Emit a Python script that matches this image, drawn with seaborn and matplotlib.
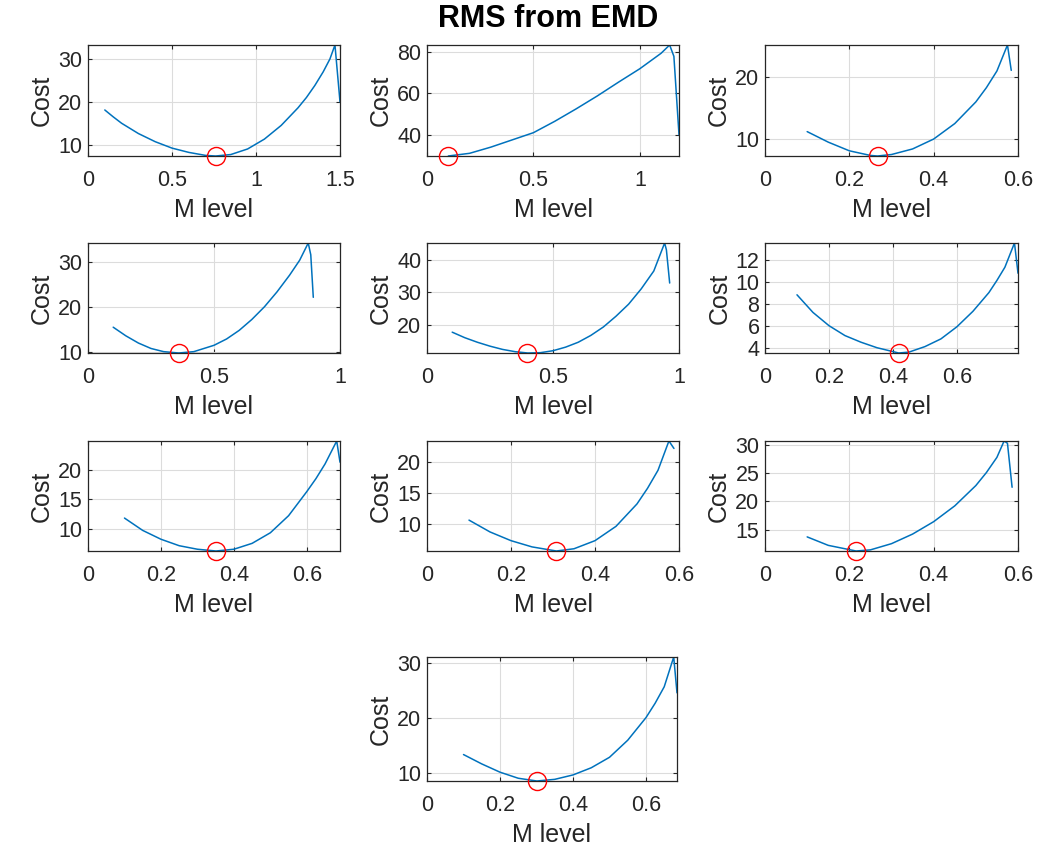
import numpy as np
import pandas as pd
import matplotlib
matplotlib.use('Agg')
import matplotlib.pyplot as plt
import seaborn as sns
from matplotlib.ticker import FormatStrFormatter

# 每个子图的曲线数据
x1 = [0.1, 0.15, 0.2, 0.3, 0.4, 0.5, 0.6, 0.7, 0.76, 0.85, 0.95, 1.05, 1.15, 1.25, 1.3, 1.35, 1.4, 1.44, 1.47, 1.5]
y1 = [18.1, 16.5, 15.0, 12.6, 10.7, 9.2, 8.2, 7.5, 7.36, 7.7, 9.0, 11.3, 14.5, 18.6, 21.0, 23.8, 27.0, 30.0, 33.26, 20.0]

x2 = [0.1, 0.2, 0.3, 0.4, 0.5, 0.6, 0.7, 0.8, 0.9, 1.0, 1.1, 1.14, 1.16, 1.184]
y2 = [29.7, 31.0, 34.0, 37.5, 41.0, 46.5, 52.5, 58.8, 65.5, 72.0, 79.5, 83.5, 78.0, 40.0]

x3 = [0.1, 0.15, 0.2, 0.25, 0.267, 0.3, 0.35, 0.4, 0.45, 0.5, 0.525, 0.55, 0.575, 0.584]
y3 = [11.2, 9.5, 8.1, 7.35, 7.26, 7.5, 8.4, 10.0, 12.5, 16.0, 18.3, 21.0, 25.2, 21.1]

x4 = [0.1, 0.15, 0.2, 0.25, 0.3, 0.36, 0.42, 0.5, 0.55, 0.6, 0.65, 0.7, 0.75, 0.8, 0.84, 0.874, 0.884, 0.894]
y4 = [15.5, 13.6, 12.0, 10.8, 10.1, 9.8, 10.1, 11.5, 12.9, 14.8, 17.2, 20.0, 23.3, 27.0, 30.3, 34.1, 31.5, 22.1]

x5 = [0.1, 0.15, 0.2, 0.25, 0.3, 0.35, 0.4, 0.45, 0.5, 0.55, 0.6, 0.65, 0.7, 0.75, 0.8, 0.85, 0.9, 0.943, 0.95, 0.963]
y5 = [17.7, 16.0, 14.6, 13.4, 12.4, 11.7, 11.3, 11.4, 12.0, 13.1, 14.6, 16.7, 19.3, 22.6, 26.3, 31.0, 36.5, 45.1, 43.0, 32.8]

x6 = [0.1, 0.15, 0.2, 0.25, 0.3, 0.35, 0.418, 0.45, 0.5, 0.55, 0.6, 0.65, 0.7, 0.725, 0.75, 0.78, 0.791]
y6 = [8.8, 7.2, 6.0, 5.1, 4.5, 4.0, 3.52, 3.6, 4.1, 4.8, 5.9, 7.3, 9.0, 10.1, 11.3, 13.5, 10.76]

x7 = [0.1, 0.15, 0.2, 0.25, 0.3, 0.351, 0.4, 0.45, 0.5, 0.55, 0.6, 0.625, 0.65, 0.682, 0.691]
y7 = [11.8, 9.7, 8.2, 7.1, 6.5, 6.2, 6.5, 7.5, 9.3, 12.2, 16.3, 18.5, 21.0, 24.9, 21.3]

x8 = [0.1, 0.15, 0.2, 0.25, 0.308, 0.35, 0.4, 0.45, 0.5, 0.525, 0.55, 0.576, 0.588]
y8 = [10.6, 8.7, 7.3, 6.3, 5.64, 6.0, 7.3, 9.6, 13.2, 15.7, 18.6, 23.3, 22.1]

x9 = [0.1, 0.15, 0.216, 0.25, 0.3, 0.35, 0.4, 0.45, 0.5, 0.525, 0.55, 0.567, 0.575, 0.586]
y9 = [13.7, 12.2, 11.2, 11.4, 12.5, 14.2, 16.4, 19.2, 22.8, 25.1, 27.8, 30.7, 30.3, 22.5]

x10 = [0.1, 0.15, 0.2, 0.25, 0.301, 0.35, 0.4, 0.45, 0.5, 0.55, 0.6, 0.625, 0.65, 0.676, 0.685]
y10 = [13.3, 11.6, 10.1, 9.0, 8.5, 8.8, 9.6, 10.9, 12.8, 15.9, 20.0, 22.6, 25.6, 31.0, 24.5]

# 最小值点（红圈）
min_x = [0.76, 0.1, 0.267, 0.36, 0.398, 0.418, 0.351, 0.308, 0.216, 0.301]
min_y = [7.36, 29.7, 7.26, 9.8, 11.3, 3.52, 6.2, 5.64, 11.2, 8.5]

# 坐标轴范围与刻度
x_max = [1.5, 1.184, 0.6, 1.0, 1.0, 0.791, 0.691, 0.6, 0.6, 0.685]
x_ticks = [[0, 0.5, 1, 1.5], [0, 0.5, 1], [0, 0.2, 0.4, 0.6], [0, 0.5, 1], [0, 0.5, 1],
           [0, 0.2, 0.4, 0.6], [0, 0.2, 0.4, 0.6], [0, 0.2, 0.4, 0.6], [0, 0.2, 0.4, 0.6],
           [0, 0.2, 0.4, 0.6]]
y_ticks = [[10, 20, 30], [40, 60, 80], [10, 20], [10, 20, 30], [20, 30, 40],
           [4, 6, 8, 10, 12], [10, 15, 20], [10, 15, 20], [15, 20, 25, 30], [10, 20, 30]]

xs = [x1, x2, x3, x4, x5, x6, x7, x8, x9, x10]
ys = [y1, y2, y3, y4, y5, y6, y7, y8, y9, y10]

sns.set_theme(style='whitegrid')
plt.rcParams['font.family'] = ['Liberation Sans', 'DejaVu Sans']
plt.rcParams['axes.edgecolor'] = '#262626'

W, H = 1038, 851
fig = plt.figure(figsize=(W / 100, H / 100), dpi=100)

# 子图位置（像素：左、上、右、下）
boxes = [
    (88, 45, 340, 156), (427, 45, 679, 156), (765, 45, 1018, 156),
    (88, 243, 340, 353), (427, 243, 679, 353), (765, 243, 1018, 353),
    (88, 441, 340, 551), (427, 441, 679, 551), (765, 441, 1018, 551),
    (427, 657, 677, 781),
]

for i in range(10):
    l, t, r, b = boxes[i]
    ax = fig.add_axes([l / W, 1 - b / H, (r - l) / W, (b - t) / H])
    df = pd.DataFrame({'M level': xs[i], 'Cost': ys[i]})
    sns.lineplot(data=df, x='M level', y='Cost', ax=ax, color='#0072BD',
                 linewidth=1.1, sort=False, estimator=None)
    ax.plot(min_x[i], min_y[i], 'o', mfc='none', mec='#FF0000', ms=13,
            mew=1.0, clip_on=False, zorder=5)
    ax.set_xlim(0, x_max[i])
    ax.set_ylim(min(ys[i]), max(ys[i]))
    ax.set_xticks(x_ticks[i])
    ax.set_yticks(y_ticks[i])
    ax.xaxis.set_major_formatter(FormatStrFormatter('%g'))
    ax.yaxis.set_major_formatter(FormatStrFormatter('%g'))
    ax.grid(True, color='#dcdcdc', linewidth=0.8)
    for s in ax.spines.values():
        s.set_visible(True)
        s.set_color('#262626')
        s.set_linewidth(0.9)
    ax.tick_params(axis='both', labelsize=15.5, colors='#262626', length=3,
                   width=0.8, direction='in', top=True, right=True,
                   bottom=True, left=True)
    ax.tick_params(axis='x', pad=10)
    ax.tick_params(axis='y', pad=4)
    ax.set_xlabel('M level', fontsize=18, color='#262626', labelpad=5)
    ax.set_ylabel('Cost', fontsize=18, color='#262626', labelpad=3)

fig.text(548 / W, 1 - 19 / H, 'RMS from EMD', ha='center', va='center',
         fontsize=22, fontweight='bold', color='black')

plt.savefig('out.png', dpi=100)
